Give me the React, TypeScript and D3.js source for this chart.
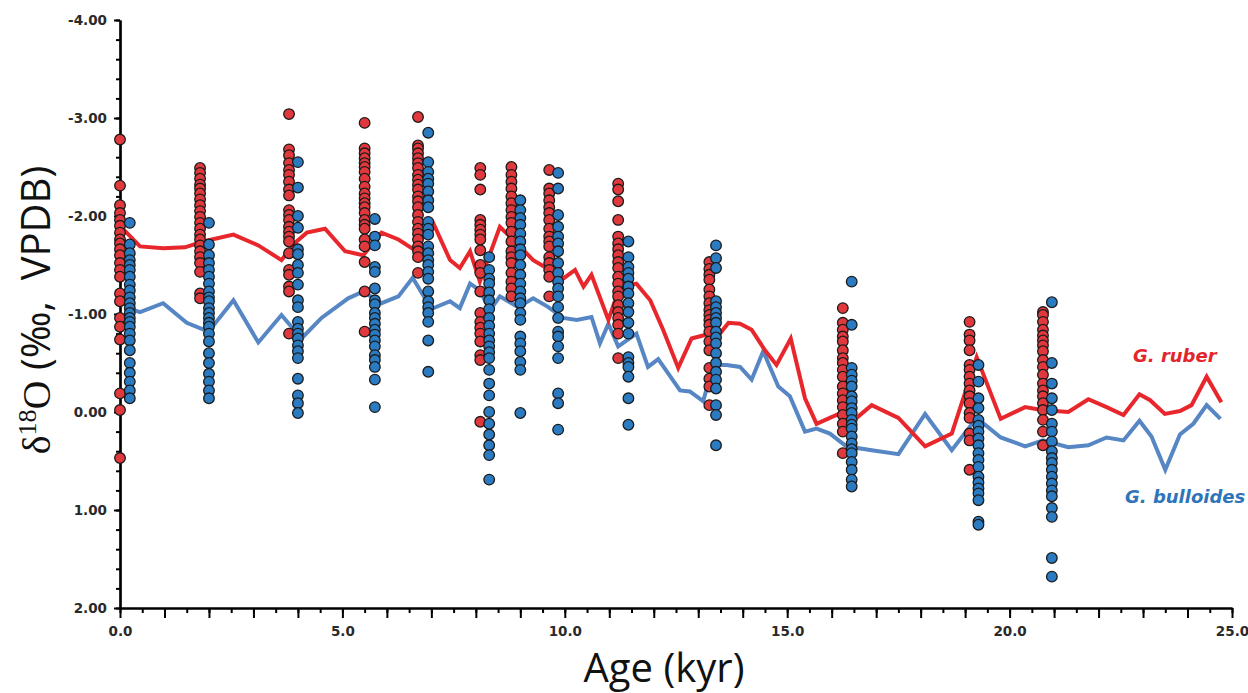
import React, { useRef, useEffect } from "react";
import * as d3 from "d3";

const W = 1248;
const H = 693;

// downcore means (lines)
const rubberLineAge = [0.0, 0.45, 0.97, 1.46, 1.87, 2.55, 3.11, 3.63, 3.97, 4.2, 4.61, 5.06, 5.47, 5.88, 6.26, 6.6, 7.04, 7.42, 7.64, 7.87, 8.09, 8.54, 8.92, 9.29, 9.59, 9.96, 10.23, 10.42, 10.6, 10.98, 11.24, 11.61, 11.92, 12.21, 12.55, 12.85, 13.19, 13.49, 13.68, 13.94, 14.2, 14.5, 14.76, 15.08, 15.4, 15.66, 15.96, 16.26, 16.56, 16.9, 17.5, 18.1, 18.7, 19.26, 19.8, 20.35, 20.72, 21.32, 21.77, 22.18, 22.56, 22.92, 23.16, 23.49, 23.83, 24.09, 24.43, 24.76];
const rubberLineD18O = [-1.9, -1.69, -1.67, -1.68, -1.74, -1.81, -1.7, -1.55, -1.74, -1.83, -1.87, -1.64, -1.6, -1.83, -1.76, -1.66, -1.93, -1.55, -1.47, -1.64, -1.33, -1.89, -1.72, -1.55, -1.47, -1.36, -1.45, -1.28, -1.4, -0.94, -1.28, -1.31, -1.14, -0.84, -0.45, -0.75, -0.79, -0.8, -0.91, -0.9, -0.84, -0.63, -0.48, -0.75, -0.14, 0.12, 0.06, 0.0, 0.06, -0.07, 0.06, 0.35, 0.22, -0.56, 0.07, -0.05, -0.02, 0.0, -0.13, -0.05, 0.03, -0.18, -0.12, 0.02, -0.01, -0.07, -0.36, -0.1];

const bulloidesLineAge = [0.11, 0.45, 0.97, 1.5, 1.99, 2.55, 3.11, 3.63, 4.08, 4.53, 5.13, 5.47, 5.88, 6.26, 6.58, 7.0, 7.42, 7.64, 7.87, 8.09, 8.32, 8.54, 8.95, 9.29, 9.63, 9.96, 10.27, 10.6, 10.79, 10.98, 11.2, 11.61, 11.87, 12.1, 12.59, 12.81, 13.11, 13.34, 13.64, 13.94, 14.2, 14.46, 14.8, 15.06, 15.4, 15.66, 15.96, 16.33, 16.9, 17.5, 18.1, 18.7, 19.26, 19.8, 20.35, 20.75, 21.32, 21.77, 22.18, 22.56, 22.92, 23.19, 23.5, 23.83, 24.13, 24.43, 24.74];
const bulloidesLineD18O = [-1.07, -1.02, -1.11, -0.91, -0.82, -1.14, -0.71, -0.99, -0.75, -0.96, -1.16, -1.23, -1.11, -1.18, -1.37, -1.05, -1.13, -1.06, -1.31, -1.24, -1.04, -1.18, -1.07, -1.16, -1.07, -0.96, -0.94, -0.97, -0.7, -0.9, -0.67, -0.8, -0.46, -0.54, -0.22, -0.21, -0.11, -0.48, -0.48, -0.46, -0.33, -0.62, -0.26, -0.16, 0.2, 0.17, 0.22, 0.35, 0.39, 0.43, 0.02, 0.39, 0.06, 0.26, 0.35, 0.29, 0.36, 0.34, 0.26, 0.29, 0.09, 0.25, 0.59, 0.23, 0.12, -0.07, 0.07];

// individual samples (dots)
const rubberAges = [0.0, 1.8, 3.8, 5.5, 6.7, 8.1, 8.8, 9.65, 11.2, 13.25, 16.25, 19.1, 20.75];
const rubberSamples = [
  [-2.78, -2.31, -2.11, -2.03, -1.96, -1.9, -1.83, -1.76, -1.72, -1.66, -1.6, -1.52, -1.45, -1.38, -1.21, -1.13, -0.96, -0.87, -0.74, -0.19, -0.02, 0.47],
  [-2.49, -2.44, -2.38, -2.32, -2.28, -2.23, -2.17, -2.11, -2.05, -1.99, -1.93, -1.87, -1.81, -1.76, -1.7, -1.64, -1.58, -1.52, -1.43, -1.21, -1.16],
  [-3.04, -2.68, -2.62, -2.54, -2.47, -2.42, -2.35, -2.27, -2.21, -2.06, -2.01, -1.96, -1.89, -1.84, -1.79, -1.74, -1.62, -1.45, -1.4, -1.28, -1.23, -0.8],
  [-2.95, -2.69, -2.64, -2.59, -2.54, -2.5, -2.45, -2.38, -2.3, -2.23, -2.18, -2.13, -2.09, -2.03, -1.96, -1.91, -1.87, -1.76, -1.69, -1.53, -1.23, -0.82],
  [-3.01, -2.72, -2.69, -2.64, -2.59, -2.54, -2.49, -2.42, -2.37, -2.32, -2.27, -2.2, -2.15, -2.09, -2.01, -1.94, -1.87, -1.82, -1.76, -1.69, -1.64, -1.58, -1.42],
  [-2.49, -2.42, -2.27, -1.96, -1.91, -1.86, -1.81, -1.76, -1.65, -1.5, -1.42, -1.23, -1.01, -0.92, -0.86, -0.8, -0.72, -0.58, -0.53, 0.1],
  [-2.5, -2.42, -2.35, -2.28, -2.2, -2.13, -2.06, -1.99, -1.93, -1.84, -1.74, -1.64, -1.58, -1.52, -1.42, -1.33, -1.26, -1.18],
  [-2.47, -2.28, -2.23, -2.16, -2.09, -2.03, -1.96, -1.87, -1.79, -1.74, -1.69, -1.58, -1.52, -1.45, -1.38, -1.18],
  [-2.33, -2.27, -2.15, -1.96, -1.79, -1.72, -1.66, -1.6, -1.53, -1.47, -1.38, -1.31, -1.23, -1.18, -1.09, -1.02, -0.96, -0.89, -0.8, -0.55],
  [-1.53, -1.46, -1.4, -1.35, -1.25, -1.18, -1.11, -1.04, -0.99, -0.94, -0.89, -0.82, -0.72, -0.63, -0.45, -0.34, -0.26, -0.07],
  [-1.06, -0.91, -0.84, -0.77, -0.72, -0.63, -0.55, -0.5, -0.43, -0.36, -0.26, -0.19, -0.12, -0.05, 0.03, 0.12, 0.2, 0.42],
  [-0.92, -0.79, -0.73, -0.63, -0.48, -0.43, -0.36, -0.29, -0.22, -0.16, -0.09, 0.01, 0.06, 0.22, 0.29, 0.59],
  [-1.02, -0.99, -0.92, -0.84, -0.78, -0.73, -0.68, -0.62, -0.53, -0.46, -0.38, -0.29, -0.22, -0.16, -0.09, -0.02, 0.08, 0.2, 0.34],
];

const bulloidesAges = [0.22, 2.0, 4.0, 5.73, 6.93, 8.3, 9.0, 9.85, 11.43, 13.4, 16.45, 19.3, 20.95];
const bulloidesSamples = [
  [-1.93, -1.71, -1.62, -1.55, -1.5, -1.45, -1.38, -1.3, -1.24, -1.17, -1.11, -1.06, -1.01, -0.96, -0.92, -0.87, -0.8, -0.73, -0.63, -0.5, -0.4, -0.31, -0.22, -0.14],
  [-1.93, -1.71, -1.6, -1.52, -1.45, -1.38, -1.31, -1.23, -1.17, -1.13, -1.06, -1.01, -0.96, -0.91, -0.87, -0.8, -0.72, -0.6, -0.5, -0.39, -0.31, -0.22, -0.14],
  [-2.55, -2.29, -2.0, -1.88, -1.66, -1.61, -1.5, -1.42, -1.3, -1.14, -1.07, -0.92, -0.85, -0.8, -0.75, -0.68, -0.62, -0.55, -0.34, -0.17, -0.09, 0.01],
  [-1.97, -1.79, -1.7, -1.48, -1.43, -1.26, -1.14, -1.1, -1.01, -0.96, -0.9, -0.84, -0.79, -0.73, -0.67, -0.58, -0.53, -0.46, -0.33, -0.05],
  [-2.85, -2.55, -2.45, -2.38, -2.33, -2.25, -2.16, -2.09, -1.94, -1.87, -1.81, -1.69, -1.62, -1.55, -1.5, -1.43, -1.36, -1.23, -1.13, -1.07, -1.01, -0.92, -0.73, -0.41],
  [-1.58, -1.45, -1.36, -1.31, -1.22, -1.14, -1.05, -0.96, -0.88, -0.8, -0.73, -0.67, -0.61, -0.55, -0.43, -0.29, -0.17, 0.0, 0.12, 0.23, 0.34, 0.44, 0.69],
  [-2.16, -2.06, -1.98, -1.91, -1.82, -1.74, -1.66, -1.6, -1.5, -1.4, -1.31, -1.23, -1.16, -1.11, -1.01, -0.94, -0.77, -0.7, -0.62, -0.51, -0.43, 0.01],
  [-2.44, -2.28, -2.01, -1.89, -1.79, -1.72, -1.64, -1.52, -1.42, -1.33, -1.26, -1.18, -1.07, -0.96, -0.82, -0.77, -0.67, -0.55, -0.19, -0.09, 0.18],
  [-1.74, -1.58, -1.48, -1.42, -1.36, -1.28, -1.21, -1.11, -1.02, -0.91, -0.8, -0.56, -0.5, -0.46, -0.36, -0.14, 0.13],
  [-1.7, -1.57, -1.47, -1.13, -1.07, -1.01, -0.96, -0.91, -0.82, -0.76, -0.7, -0.6, -0.5, -0.41, -0.33, -0.24, -0.07, 0.03, 0.34],
  [-1.33, -0.89, -0.45, -0.38, -0.32, -0.26, -0.16, -0.11, -0.04, 0.01, 0.08, 0.13, 0.17, 0.25, 0.32, 0.38, 0.42, 0.51, 0.59, 0.69, 0.76],
  [-0.48, -0.31, -0.14, -0.04, 0.08, 0.14, 0.2, 0.27, 0.34, 0.42, 0.49, 0.56, 0.66, 0.72, 0.78, 0.83, 0.9, 1.12, 1.15],
  [-1.12, -0.5, -0.29, -0.14, -0.02, 0.12, 0.2, 0.3, 0.4, 0.47, 0.52, 0.59, 0.66, 0.73, 0.8, 0.86, 0.98, 1.07, 1.49, 1.68],
];

const RED = "#e8272d";
const BLUE = "#5686c4";
const RED_DOT = "#e0383c";
const BLUE_DOT = "#2a7bc1";

export default function App() {
  const svgRef = useRef<SVGSVGElement>(null);

  useEffect(() => {
    const svg = d3.select(svgRef.current);
    svg.selectAll("*").remove();

    const margin = { top: 20, right: 16, bottom: 85, left: 120 };

    const x = d3.scaleLinear().domain([0, 25]).range([margin.left, W - margin.right]);
    const y = d3.scaleLinear().domain([-4, 2]).range([margin.top, H - margin.bottom]);

    const tickFont = "'DejaVu Sans', sans-serif";

    // x axis: minor ticks (0.5), major ticks (1.0), labels every 5
    const gxMinor = svg
      .append("g")
      .attr("transform", `translate(0,${y(2)})`)
      .call(d3.axisBottom(x).tickValues(d3.range(0, 25.01, 0.5)).tickSize(5).tickSizeOuter(0).tickFormat(() => ""));
    const gx = svg
      .append("g")
      .attr("transform", `translate(0,${y(2)})`)
      .call(
        d3
          .axisBottom(x)
          .tickValues(d3.range(0, 26, 1))
          .tickSize(10)
          .tickPadding(8)
          .tickSizeOuter(0)
          .tickFormat((d: any) => (d % 5 === 0 ? d.toFixed(1) : ""))
      );

    // y axis: minor ticks (0.2), major (1.0)
    const gyMinor = svg
      .append("g")
      .attr("transform", `translate(${x(0)},0)`)
      .call(d3.axisLeft(y).tickValues(d3.range(-4, 2.01, 0.2)).tickSize(4).tickSizeOuter(0).tickFormat(() => ""));
    const gy = svg
      .append("g")
      .attr("transform", `translate(${x(0)},0)`)
      .call(
        d3
          .axisLeft(y)
          .tickValues(d3.range(-4, 2.01, 1))
          .tickSize(6)
          .tickPadding(7)
          .tickSizeOuter(0)
          .tickFormat((d: any) => d.toFixed(2))
      );

    [gxMinor, gx, gyMinor, gy].forEach((g) => {
      g.select(".domain").attr("stroke", "#000").attr("stroke-width", 2.2);
      g.selectAll(".tick line").attr("stroke", "#000").attr("stroke-width", 2);
      g.selectAll(".tick text")
        .attr("fill", "#2a2a2a")
        .attr("font-family", tickFont)
        .attr("font-weight", "bold")
        .attr("font-size", 13.5);
    });

    // mean lines
    const line = d3
      .line<[number, number]>()
      .x((d) => x(d[0]))
      .y((d) => y(d[1]));

    svg
      .append("path")
      .datum(d3.zip(bulloidesLineAge, bulloidesLineD18O) as [number, number][])
      .attr("d", line)
      .attr("fill", "none")
      .attr("stroke", BLUE)
      .attr("stroke-width", 4)
      .attr("stroke-linejoin", "miter");

    svg
      .append("path")
      .datum(d3.zip(rubberLineAge, rubberLineD18O) as [number, number][])
      .attr("d", line)
      .attr("fill", "none")
      .attr("stroke", RED)
      .attr("stroke-width", 4)
      .attr("stroke-linejoin", "miter");

    // sample dots
    const flatten = (ages: number[], samples: number[][]) =>
      ages.flatMap((a, i) => samples[i].map((v) => ({ age: a, v })));

    const drawDots = (pts: { age: number; v: number }[], fill: string) => {
      svg
        .append("g")
        .selectAll("circle")
        .data(pts)
        .join("circle")
        .attr("cx", (d) => x(d.age))
        .attr("cy", (d) => y(d.v))
        .attr("r", 5.3)
        .attr("fill", fill)
        .attr("stroke", "#1b1b1b")
        .attr("stroke-width", 1.3);
    };
    drawDots(flatten(rubberAges, rubberSamples), RED_DOT);
    drawDots(flatten(bulloidesAges, bulloidesSamples), BLUE_DOT);

    // series labels
    svg
      .append("text")
      .attr("x", 1133)
      .attr("y", 362)
      .attr("font-family", tickFont)
      .attr("font-weight", "bold")
      .attr("font-style", "italic")
      .attr("font-size", 18)
      .attr("fill", "#e3262c")
      .text("G. ruber");
    svg
      .append("text")
      .attr("x", 1125)
      .attr("y", 503)
      .attr("font-family", tickFont)
      .attr("font-weight", "bold")
      .attr("font-style", "italic")
      .attr("font-size", 18)
      .attr("fill", "#2f74b8")
      .text("G. bulloides");

    // axis titles
    svg
      .append("text")
      .attr("x", (x(0) + x(25)) / 2 - 12)
      .attr("y", 682)
      .attr("text-anchor", "middle")
      .attr("font-family", "'Open Sans', sans-serif")
      .attr("font-size", 40)
      .attr("fill", "#111")
      .text("Age (kyr)");

    const yt = svg
      .append("text")
      .attr("transform", "translate(50,310) rotate(-90)")
      .attr("text-anchor", "middle")
      .attr("font-size", 40)
      .attr("fill", "#111");
    yt.append("tspan").attr("font-family", "'Liberation Serif', serif").text("δ");
    yt.append("tspan").attr("font-family", "'Liberation Serif', serif").attr("font-size", 26).attr("dy", -14).text("18");
    yt.append("tspan").attr("font-family", "'Liberation Serif', serif").attr("dy", 14).text("O");
    yt.append("tspan").attr("font-family", "'Open Sans', sans-serif").attr("xml:space", "preserve").text(" (‰,  VPDB)");
  }, []);

  return (
    <svg
      ref={svgRef}
      width={W}
      height={H}
      style={{ position: "absolute", left: 0, top: 0, background: "#fff" }}
    />
  );
}
